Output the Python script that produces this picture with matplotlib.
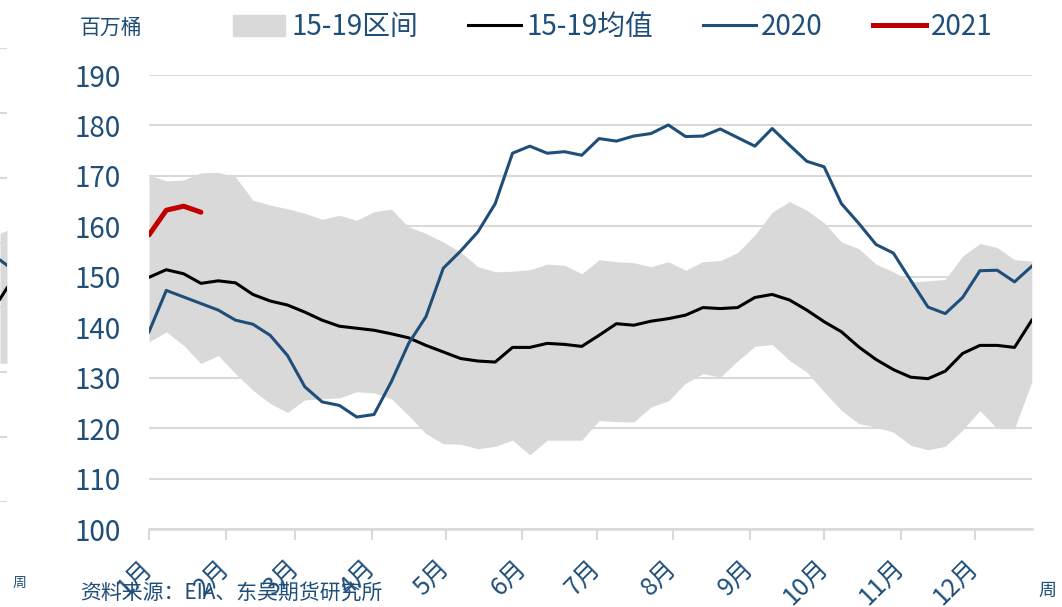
import numpy as np
import matplotlib
matplotlib.use('Agg')
import matplotlib.pyplot as plt
from matplotlib.patches import Patch
from matplotlib.lines import Line2D

plt.rcParams['font.family'] = ['Noto Sans CJK SC', 'DejaVu Sans']

# 周度数据（52周），x 为一年中的天数
days = np.arange(52) * 7
band_hi = [170.2, 169.0, 169.2, 170.6, 170.7, 169.8, 165.2, 164.2, 163.5, 162.6, 161.4,
           162.2, 161.2, 162.9, 163.4, 159.9, 158.6, 156.9, 154.9, 152.0, 151.0,
           151.1, 151.4, 152.5, 152.3, 150.6, 153.4, 153.0, 152.8, 152.0, 153.0,
           151.3, 153.0, 153.2, 154.8, 158.3, 162.8, 164.9, 163.2, 160.7, 156.9,
           155.6, 152.5, 151.0, 149.0, 149.2, 149.5, 154.1, 156.6, 155.8, 153.4, 153.1]
band_lo = [137.1, 139.1, 136.4, 132.8, 134.4, 130.8, 127.5, 124.9, 123.1, 125.6, 125.8,
           126.0, 127.2, 127.0, 125.8, 122.5, 118.9, 116.9, 116.8, 115.9, 116.4,
           117.6, 114.7, 117.6, 117.6, 117.6, 121.5, 121.3, 121.2, 124.2, 125.4,
           128.9, 130.8, 130.1, 133.3, 136.2, 136.6, 133.4, 131.1, 127.2, 123.5,
           120.9, 120.2, 119.2, 116.6, 115.7, 116.4, 119.6, 123.5, 119.9, 119.9, 129.2]
mean_15_19 = [149.9, 151.4, 150.6, 148.7, 149.2, 148.8, 146.5, 145.2, 144.4, 143.0, 141.4,
              140.2, 139.8, 139.4, 138.7, 137.9, 136.4, 135.1, 133.8, 133.3, 133.1,
              136.0, 136.0, 136.8, 136.6, 136.2, 138.4, 140.7, 140.4, 141.2, 141.7,
              142.4, 143.9, 143.7, 143.9, 145.9, 146.5, 145.4, 143.4, 141.1, 139.1,
              136.1, 133.6, 131.6, 130.1, 129.8, 131.3, 134.8, 136.4, 136.4, 136.0, 141.4]
y2020 = [139.1, 147.3, 146.0, 144.7, 143.4, 141.4, 140.6, 138.4, 134.4, 128.2, 125.2,
         124.5, 122.2, 122.7, 129.2, 136.8, 142.1, 151.7, 155.1, 158.9, 164.5,
         174.5, 175.9, 174.5, 174.8, 174.1, 177.4, 176.9, 177.9, 178.4, 180.1,
         177.8, 177.9, 179.3, 177.6, 175.9, 179.4, 176.1, 172.9, 171.8, 164.5,
         160.6, 156.4, 154.7, 149.3, 144.0, 142.7, 145.9, 151.2, 151.3, 149.0, 152.1]
y2021 = [158.3, 163.2, 164.0, 162.8]

month_days = [0, 31, 59, 90, 120, 151, 181, 212, 243, 273, 304, 334]
month_labels = [f'{m}月' for m in range(1, 13)]

# 左侧被截掉的相邻图表残片
frag_x = [0, 1]
frag_lo = [2.14, 2.14]
frag_hi = [4.14, 4.19]
frag_blue = [3.73, 3.65]
frag_black = [3.13, 3.30]

BLUE = '#1F4E79'
RED = '#C00000'
GRAY = '#D9D9D9'
TXT = '#1F4E79'

fig = plt.figure(figsize=(10.62, 6.07), dpi=100)
ax = fig.add_axes([0.1403, 0.1285, 0.8313, 0.7479])

ax.fill_between(days, band_lo, band_hi, color=GRAY, lw=0, zorder=1)
ax.plot(days, mean_15_19, color='black', lw=2.2, zorder=3)
ax.plot(days, y2020, color=BLUE, lw=2.2, zorder=4)
ax.plot(days[:len(y2021)], y2021, color=RED, lw=3.6, zorder=5, solid_capstyle='round')

ax.set_xlim(0, days[-1])
ax.set_ylim(100, 190)
ax.set_yticks(range(100, 191, 10))
ax.grid(axis='y', color=GRAY, lw=1.5, zorder=0)
ax.set_axisbelow(True)
for s in ['left', 'right', 'top']:
    ax.spines[s].set_visible(False)
ax.spines['bottom'].set_color(GRAY)
ax.spines['bottom'].set_linewidth(1.8)

ax.set_xticks(month_days)
ax.set_xticklabels(month_labels, rotation=45, ha='right', va='center',
                   rotation_mode='anchor')
ax.tick_params(axis='x', length=8, width=1.5, color=GRAY, labelsize=18,
               labelcolor=TXT, pad=17)
ax.tick_params(axis='y', length=0, labelsize=20, labelcolor=TXT, pad=20)

handles = [Patch(color=GRAY),
           Line2D([], [], color='black', lw=2.2),
           Line2D([], [], color=BLUE, lw=2.2),
           Line2D([], [], color=RED, lw=3.6)]
labels = ['15-19区间', '15-19均值', '2020', '2021']
leg = fig.legend(handles, labels, loc='center', bbox_to_anchor=(0.577, 0.955),
                 ncol=4, frameon=False, fontsize=20, handlelength=1.9,
                 handleheight=0.8, handletextpad=0.2, columnspacing=1.8,
                 borderpad=0)
for t in leg.get_texts():
    t.set_color(TXT)

fig.text(0.075, 0.955, '百万桶', fontsize=15, color=TXT, ha='left', va='center')
fig.text(0.075, 0.024, '资料来源：EIA、东吴期货研究所', fontsize=15, color=TXT,
         ha='left', va='center', style='italic')
fig.text(0.012, 0.04, '周', fontsize=10, color=TXT, ha='left', va='center')
fig.text(0.978, 0.027, '周', fontsize=13, color=TXT, ha='left', va='center')

# 残片
fa = fig.add_axes([0.0, 0.173, 0.0066, 0.748])
fa.fill_between(frag_x, frag_lo, frag_hi, color=GRAY, lw=0)
fa.plot(frag_x, frag_blue, color=BLUE, lw=2.2)
fa.plot(frag_x, frag_black, color='black', lw=2.2)
fa.set_xlim(0, 1)
fa.set_ylim(0, 7)
fa.set_yticks(range(0, 8))
fa.grid(axis='y', color=GRAY, lw=1.5)
fa.set_axisbelow(True)
fa.set_xticks([])
fa.tick_params(axis='y', length=0, labelleft=False)
for s in fa.spines.values():
    s.set_visible(False)

fig.savefig('out.png', dpi=100)
